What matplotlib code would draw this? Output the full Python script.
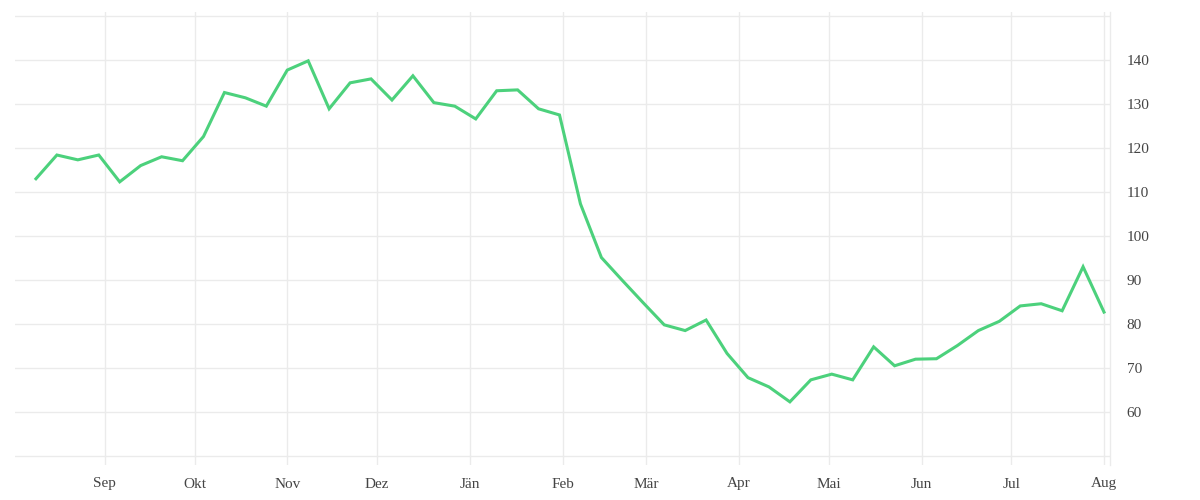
#!/usr/bin/env python3
"""plot.py - Wochenverlauf Aug 2020 - Aug 2021, Linie mit Achse rechts."""

import numpy as np
import pandas as pd
import matplotlib
matplotlib.use('Agg')
import matplotlib.pyplot as plt
import matplotlib.dates as mdates

# Wochenwerte
start_date = '2020-08-09'
values = [
    113.0, 118.4, 117.3, 118.4, 112.3, 116.0, 118.0, 117.1, 122.6, 132.6,
    131.4, 129.5, 137.7, 139.8, 128.9, 134.8, 135.7, 130.9, 136.4, 130.3,
    129.5, 126.6, 133.0, 133.2, 128.9, 127.5, 107.3, 95.1, 89.9, 84.8,
    79.8, 78.5, 80.9, 73.3, 67.8, 65.7, 62.3, 67.3, 68.6, 67.3,
    74.8, 70.5, 72.0, 72.1, 75.1, 78.5, 80.6, 84.1, 84.6, 83.0,
    93.0, 82.7,
]
dates = pd.date_range(start_date, periods=len(values), freq='7D')

month_ticks = pd.date_range('2020-09-01', '2021-08-01', freq='MS')
month_labels = ['Sep', 'Okt', 'Nov', 'Dez', 'Jän', 'Feb', 'Mär', 'Apr',
                'Mai', 'Jun', 'Jul', 'Aug']
y_ticks = list(range(50, 151, 10))
y_labels = ['' if v in (50, 150) else str(v) for v in y_ticks]

GRID = '#ebebeb'
TEXT = '#444444'

plt.rcParams['font.family'] = ['Liberation Serif', 'DejaVu Serif']

fig = plt.figure(figsize=(12, 5), dpi=100)
ax = fig.add_axes([0.0125, 0.07, 0.9125, 0.906])

ax.plot(dates, values, color='#4CD17C', linewidth=2.2, solid_joinstyle='miter')

ax.set_xlim(pd.Timestamp('2020-08-02'), pd.Timestamp('2021-08-03'))
ax.set_ylim(47.95, 150.9)

ax.set_xticks(month_ticks)
ax.set_xticklabels(month_labels)
ax.set_yticks(y_ticks)
ax.set_yticklabels(y_labels)

ax.yaxis.tick_right()
ax.grid(True, color=GRID, linewidth=1)
ax.set_axisbelow(True)
for side in ('top', 'left', 'bottom'):
    ax.spines[side].set_visible(False)
ax.spines['right'].set_color(GRID)
ax.spines['right'].set_linewidth(1)

ax.tick_params(axis='x', length=0, pad=9, labelsize=11, labelcolor=TEXT)
ax.tick_params(axis='y', length=0, pad=12, labelsize=11, labelcolor=TEXT)

fig.savefig('out.png', dpi=100)
